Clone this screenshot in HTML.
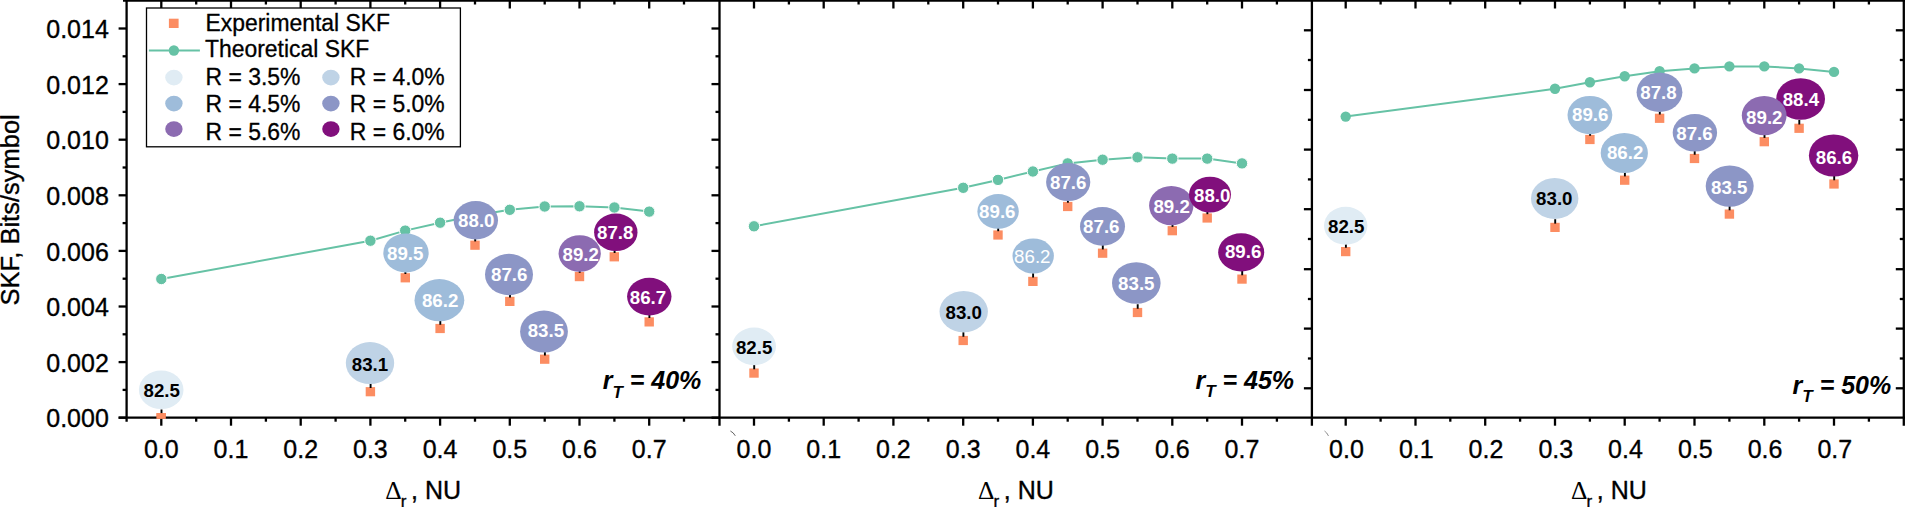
<!DOCTYPE html>
<html lang="en"><head><meta charset="utf-8"><title>SKF vs Delta r</title>
<style>
html,body{margin:0;padding:0;background:#fff;}
body{width:1925px;height:507px;overflow:hidden;}
svg{display:block;}
</style></head><body>
<svg width="1925" height="507" viewBox="0 0 1925 507" font-family="'Liberation Sans', Arial, Helvetica, sans-serif">
<rect width="1925" height="507" fill="#fff"/>
<defs>
<clipPath id="cp0"><rect x="126.6" y="0" width="592.9" height="417.7"/></clipPath>
<clipPath id="cp1"><rect x="719.5" y="0" width="592.4000000000001" height="417.7"/></clipPath>
<clipPath id="cp2"><rect x="1311.9" y="0" width="591.8999999999999" height="417.7"/></clipPath>
</defs>
<g clip-path="url(#cp0)">
<polyline points="161.3,279.0 370.4,240.7 405.2,230.6 440.1,222.7 475.0,215.6 509.8,209.8 544.7,206.5 579.5,206.3 614.4,207.5 649.2,211.6" fill="none" stroke="#66c2a5" stroke-width="2"/>
<circle cx="161.3" cy="279.0" r="5.7" fill="#66c2a5" stroke="#fff" stroke-width="1"/>
<circle cx="370.4" cy="240.7" r="5.7" fill="#66c2a5" stroke="#fff" stroke-width="1"/>
<circle cx="405.2" cy="230.6" r="5.7" fill="#66c2a5" stroke="#fff" stroke-width="1"/>
<circle cx="440.1" cy="222.7" r="5.7" fill="#66c2a5" stroke="#fff" stroke-width="1"/>
<circle cx="475.0" cy="215.6" r="5.7" fill="#66c2a5" stroke="#fff" stroke-width="1"/>
<circle cx="509.8" cy="209.8" r="5.7" fill="#66c2a5" stroke="#fff" stroke-width="1"/>
<circle cx="544.7" cy="206.5" r="5.7" fill="#66c2a5" stroke="#fff" stroke-width="1"/>
<circle cx="579.5" cy="206.3" r="5.7" fill="#66c2a5" stroke="#fff" stroke-width="1"/>
<circle cx="614.4" cy="207.5" r="5.7" fill="#66c2a5" stroke="#fff" stroke-width="1"/>
<circle cx="649.2" cy="211.6" r="5.7" fill="#66c2a5" stroke="#fff" stroke-width="1"/>
<rect x="156.6" y="413.1" width="9.4" height="9.2" fill="#fc8d62"/>
<rect x="365.7" y="387.1" width="9.4" height="9.2" fill="#fc8d62"/>
<rect x="400.6" y="273.2" width="9.4" height="9.2" fill="#fc8d62"/>
<rect x="435.4" y="323.9" width="9.4" height="9.2" fill="#fc8d62"/>
<rect x="470.3" y="240.6" width="9.4" height="9.2" fill="#fc8d62"/>
<rect x="505.1" y="296.8" width="9.4" height="9.2" fill="#fc8d62"/>
<rect x="540.0" y="354.6" width="9.4" height="9.2" fill="#fc8d62"/>
<rect x="574.8" y="272.0" width="9.4" height="9.2" fill="#fc8d62"/>
<rect x="609.6" y="252.2" width="9.4" height="9.2" fill="#fc8d62"/>
<rect x="644.5" y="317.3" width="9.4" height="9.2" fill="#fc8d62"/>
<line x1="161.5" y1="409.5" x2="161.5" y2="413.9" stroke="#000" stroke-width="1.9"/>
<line x1="370.6" y1="383.5" x2="370.6" y2="387.9" stroke="#000" stroke-width="1.9"/>
<line x1="405.4" y1="269.6" x2="405.4" y2="274.0" stroke="#000" stroke-width="1.9"/>
<line x1="440.3" y1="320.3" x2="440.3" y2="324.7" stroke="#000" stroke-width="1.9"/>
<line x1="475.2" y1="237.0" x2="475.2" y2="241.4" stroke="#000" stroke-width="1.9"/>
<line x1="510.0" y1="293.2" x2="510.0" y2="297.6" stroke="#000" stroke-width="1.9"/>
<line x1="544.9" y1="351.0" x2="544.9" y2="355.4" stroke="#000" stroke-width="1.9"/>
<line x1="579.7" y1="268.4" x2="579.7" y2="272.8" stroke="#000" stroke-width="1.9"/>
<line x1="614.6" y1="248.6" x2="614.6" y2="253.0" stroke="#000" stroke-width="1.9"/>
<line x1="649.4" y1="313.7" x2="649.4" y2="318.1" stroke="#000" stroke-width="1.9"/>
<ellipse cx="161.2" cy="389.8" rx="22.3" ry="19.3" fill="#e0ecf4"/>
<text x="161.7" y="396.7" font-size="18.7" font-weight="bold" fill="#000" text-anchor="middle">82.5</text>
<ellipse cx="370.0" cy="363.1" rx="24.2" ry="21.0" fill="#bfd3e6"/>
<text x="370.0" y="370.5" font-size="18.7" font-weight="bold" fill="#000" text-anchor="middle">83.1</text>
<ellipse cx="406.0" cy="252.9" rx="22.7" ry="19.5" fill="#9ebcda"/>
<text x="405.2" y="259.6" font-size="18.7" font-weight="bold" fill="#fff" text-anchor="middle">89.5</text>
<ellipse cx="439.4" cy="300.2" rx="24.9" ry="21.1" fill="#9ebcda"/>
<text x="440.1" y="307.0" font-size="18.7" font-weight="bold" fill="#fff" text-anchor="middle">86.2</text>
<ellipse cx="475.8" cy="220.3" rx="22.2" ry="19.2" fill="#8c96c6"/>
<text x="476.3" y="226.6" font-size="18.7" font-weight="bold" fill="#fff" text-anchor="middle">88.0</text>
<ellipse cx="509.0" cy="274.5" rx="24.0" ry="20.7" fill="#8c96c6"/>
<text x="509.2" y="280.9" font-size="18.7" font-weight="bold" fill="#fff" text-anchor="middle">87.6</text>
<ellipse cx="544.0" cy="331.6" rx="23.9" ry="21.0" fill="#8c96c6"/>
<text x="545.9" y="337.2" font-size="18.7" font-weight="bold" fill="#fff" text-anchor="middle">83.5</text>
<ellipse cx="579.7" cy="253.5" rx="21.1" ry="18.3" fill="#8c6bb1"/>
<text x="580.7" y="261.1" font-size="18.7" font-weight="bold" fill="#fff" text-anchor="middle">89.2</text>
<ellipse cx="615.8" cy="232.3" rx="21.7" ry="18.8" fill="#810f7c"/>
<text x="615.2" y="238.6" font-size="18.7" font-weight="bold" fill="#fff" text-anchor="middle">87.8</text>
<ellipse cx="649.3" cy="296.6" rx="22.2" ry="18.8" fill="#810f7c"/>
<text x="648.0" y="304.1" font-size="18.7" font-weight="bold" fill="#fff" text-anchor="middle">86.7</text>
</g>
<g clip-path="url(#cp1)">
<polyline points="754.0,226.3 963.2,187.8 998.0,179.9 1032.9,171.5 1067.7,163.4 1102.6,159.7 1137.5,157.3 1172.3,158.6 1207.2,158.6 1242.0,163.4" fill="none" stroke="#66c2a5" stroke-width="2"/>
<circle cx="754.0" cy="226.3" r="5.7" fill="#66c2a5" stroke="#fff" stroke-width="1"/>
<circle cx="963.2" cy="187.8" r="5.7" fill="#66c2a5" stroke="#fff" stroke-width="1"/>
<circle cx="998.0" cy="179.9" r="5.7" fill="#66c2a5" stroke="#fff" stroke-width="1"/>
<circle cx="1032.9" cy="171.5" r="5.7" fill="#66c2a5" stroke="#fff" stroke-width="1"/>
<circle cx="1067.7" cy="163.4" r="5.7" fill="#66c2a5" stroke="#fff" stroke-width="1"/>
<circle cx="1102.6" cy="159.7" r="5.7" fill="#66c2a5" stroke="#fff" stroke-width="1"/>
<circle cx="1137.5" cy="157.3" r="5.7" fill="#66c2a5" stroke="#fff" stroke-width="1"/>
<circle cx="1172.3" cy="158.6" r="5.7" fill="#66c2a5" stroke="#fff" stroke-width="1"/>
<circle cx="1207.2" cy="158.6" r="5.7" fill="#66c2a5" stroke="#fff" stroke-width="1"/>
<circle cx="1242.0" cy="163.4" r="5.7" fill="#66c2a5" stroke="#fff" stroke-width="1"/>
<rect x="749.3" y="368.5" width="9.4" height="9.2" fill="#fc8d62"/>
<rect x="958.5" y="335.9" width="9.4" height="9.2" fill="#fc8d62"/>
<rect x="993.3" y="230.4" width="9.4" height="9.2" fill="#fc8d62"/>
<rect x="1028.2" y="276.8" width="9.4" height="9.2" fill="#fc8d62"/>
<rect x="1063.0" y="201.9" width="9.4" height="9.2" fill="#fc8d62"/>
<rect x="1097.9" y="248.6" width="9.4" height="9.2" fill="#fc8d62"/>
<rect x="1132.8" y="307.9" width="9.4" height="9.2" fill="#fc8d62"/>
<rect x="1167.6" y="226.1" width="9.4" height="9.2" fill="#fc8d62"/>
<rect x="1202.5" y="213.4" width="9.4" height="9.2" fill="#fc8d62"/>
<rect x="1237.3" y="274.5" width="9.4" height="9.2" fill="#fc8d62"/>
<line x1="754.2" y1="364.9" x2="754.2" y2="369.3" stroke="#000" stroke-width="1.9"/>
<line x1="963.4" y1="332.3" x2="963.4" y2="336.7" stroke="#000" stroke-width="1.9"/>
<line x1="998.2" y1="226.8" x2="998.2" y2="231.2" stroke="#000" stroke-width="1.9"/>
<line x1="1033.1" y1="273.2" x2="1033.1" y2="277.6" stroke="#000" stroke-width="1.9"/>
<line x1="1067.9" y1="198.3" x2="1067.9" y2="202.7" stroke="#000" stroke-width="1.9"/>
<line x1="1102.8" y1="245.0" x2="1102.8" y2="249.4" stroke="#000" stroke-width="1.9"/>
<line x1="1137.7" y1="304.3" x2="1137.7" y2="308.7" stroke="#000" stroke-width="1.9"/>
<line x1="1172.5" y1="222.5" x2="1172.5" y2="226.9" stroke="#000" stroke-width="1.9"/>
<line x1="1207.4" y1="209.8" x2="1207.4" y2="214.2" stroke="#000" stroke-width="1.9"/>
<line x1="1242.2" y1="270.9" x2="1242.2" y2="275.3" stroke="#000" stroke-width="1.9"/>
<ellipse cx="754.1" cy="346.4" rx="21.9" ry="18.8" fill="#e0ecf4"/>
<text x="754.1" y="353.6" font-size="18.7" font-weight="bold" fill="#000" text-anchor="middle">82.5</text>
<ellipse cx="963.7" cy="311.6" rx="24.2" ry="20.7" fill="#bfd3e6"/>
<text x="963.7" y="318.5" font-size="18.7" font-weight="bold" fill="#000" text-anchor="middle">83.0</text>
<ellipse cx="998.1" cy="211.4" rx="20.7" ry="17.3" fill="#9ebcda"/>
<text x="997.3" y="217.5" font-size="18.7" font-weight="bold" fill="#fff" text-anchor="middle">89.6</text>
<ellipse cx="1033.2" cy="256.0" rx="20.7" ry="17.5" fill="#9ebcda"/>
<text x="1032.3" y="263.1" font-size="18.7" font-weight="normal" fill="#fff" text-anchor="middle">86.2</text>
<ellipse cx="1068.2" cy="182.1" rx="22.1" ry="19.0" fill="#8c96c6"/>
<text x="1068.2" y="188.6" font-size="18.7" font-weight="bold" fill="#fff" text-anchor="middle">87.6</text>
<ellipse cx="1102.5" cy="226.4" rx="22.5" ry="19.4" fill="#8c96c6"/>
<text x="1101.3" y="232.8" font-size="18.7" font-weight="bold" fill="#fff" text-anchor="middle">87.6</text>
<ellipse cx="1136.3" cy="283.0" rx="24.3" ry="20.8" fill="#8c96c6"/>
<text x="1136.3" y="289.6" font-size="18.7" font-weight="bold" fill="#fff" text-anchor="middle">83.5</text>
<ellipse cx="1171.3" cy="205.6" rx="22.2" ry="19.7" fill="#8c6bb1"/>
<text x="1171.6" y="213.3" font-size="18.7" font-weight="bold" fill="#fff" text-anchor="middle">89.2</text>
<ellipse cx="1210.0" cy="194.6" rx="21.0" ry="17.9" fill="#810f7c"/>
<text x="1212.2" y="201.5" font-size="18.7" font-weight="bold" fill="#fff" text-anchor="middle">88.0</text>
<ellipse cx="1241.2" cy="252.3" rx="23.0" ry="19.1" fill="#810f7c"/>
<text x="1243.1" y="258.1" font-size="18.7" font-weight="bold" fill="#fff" text-anchor="middle">89.6</text>
</g>
<g clip-path="url(#cp2)">
<polyline points="1345.7,116.6 1555.0,88.8 1589.9,82.3 1624.7,76.3 1659.6,71.3 1694.5,68.4 1729.4,66.4 1764.3,66.4 1799.1,68.4 1834.0,71.9" fill="none" stroke="#66c2a5" stroke-width="2"/>
<circle cx="1345.7" cy="116.6" r="5.2" fill="#66c2a5"/>
<circle cx="1555.0" cy="88.8" r="5.2" fill="#66c2a5"/>
<circle cx="1589.9" cy="82.3" r="5.2" fill="#66c2a5"/>
<circle cx="1624.7" cy="76.3" r="5.2" fill="#66c2a5"/>
<circle cx="1659.6" cy="71.3" r="5.2" fill="#66c2a5"/>
<circle cx="1694.5" cy="68.4" r="5.2" fill="#66c2a5"/>
<circle cx="1729.4" cy="66.4" r="5.2" fill="#66c2a5"/>
<circle cx="1764.3" cy="66.4" r="5.2" fill="#66c2a5"/>
<circle cx="1799.1" cy="68.4" r="5.2" fill="#66c2a5"/>
<circle cx="1834.0" cy="71.9" r="5.2" fill="#66c2a5"/>
<rect x="1341.0" y="247.0" width="9.4" height="9.2" fill="#fc8d62"/>
<rect x="1550.3" y="222.8" width="9.4" height="9.2" fill="#fc8d62"/>
<rect x="1585.2" y="134.9" width="9.4" height="9.2" fill="#fc8d62"/>
<rect x="1620.0" y="175.6" width="9.4" height="9.2" fill="#fc8d62"/>
<rect x="1654.9" y="113.7" width="9.4" height="9.2" fill="#fc8d62"/>
<rect x="1689.8" y="153.9" width="9.4" height="9.2" fill="#fc8d62"/>
<rect x="1724.7" y="209.5" width="9.4" height="9.2" fill="#fc8d62"/>
<rect x="1759.6" y="137.1" width="9.4" height="9.2" fill="#fc8d62"/>
<rect x="1794.4" y="123.7" width="9.4" height="9.2" fill="#fc8d62"/>
<rect x="1829.3" y="179.4" width="9.4" height="9.2" fill="#fc8d62"/>
<line x1="1345.9" y1="243.4" x2="1345.9" y2="247.8" stroke="#000" stroke-width="1.9"/>
<line x1="1555.2" y1="219.2" x2="1555.2" y2="223.6" stroke="#000" stroke-width="1.9"/>
<line x1="1590.1" y1="131.3" x2="1590.1" y2="135.7" stroke="#000" stroke-width="1.9"/>
<line x1="1624.9" y1="172.0" x2="1624.9" y2="176.4" stroke="#000" stroke-width="1.9"/>
<line x1="1659.8" y1="110.1" x2="1659.8" y2="114.5" stroke="#000" stroke-width="1.9"/>
<line x1="1694.7" y1="150.3" x2="1694.7" y2="154.7" stroke="#000" stroke-width="1.9"/>
<line x1="1729.6" y1="205.9" x2="1729.6" y2="210.3" stroke="#000" stroke-width="1.9"/>
<line x1="1764.5" y1="133.5" x2="1764.5" y2="137.9" stroke="#000" stroke-width="1.9"/>
<line x1="1799.3" y1="120.1" x2="1799.3" y2="124.5" stroke="#000" stroke-width="1.9"/>
<line x1="1834.2" y1="175.8" x2="1834.2" y2="180.2" stroke="#000" stroke-width="1.9"/>
<ellipse cx="1345.7" cy="225.7" rx="21.7" ry="19.0" fill="#e0ecf4"/>
<text x="1346.2" y="233.3" font-size="18.7" font-weight="bold" fill="#000" text-anchor="middle">82.5</text>
<ellipse cx="1554.7" cy="198.4" rx="23.7" ry="20.5" fill="#bfd3e6"/>
<text x="1554.3" y="205.3" font-size="18.7" font-weight="bold" fill="#000" text-anchor="middle">83.0</text>
<ellipse cx="1589.9" cy="115.1" rx="22.4" ry="19.2" fill="#9ebcda"/>
<text x="1590.2" y="121.3" font-size="18.7" font-weight="bold" fill="#fff" text-anchor="middle">89.6</text>
<ellipse cx="1624.3" cy="152.9" rx="23.6" ry="20.0" fill="#9ebcda"/>
<text x="1625.1" y="158.5" font-size="18.7" font-weight="bold" fill="#fff" text-anchor="middle">86.2</text>
<ellipse cx="1659.5" cy="92.3" rx="22.9" ry="19.7" fill="#8c96c6"/>
<text x="1658.5" y="98.6" font-size="18.7" font-weight="bold" fill="#fff" text-anchor="middle">87.8</text>
<ellipse cx="1694.9" cy="132.8" rx="22.2" ry="18.8" fill="#8c96c6"/>
<text x="1694.5" y="139.9" font-size="18.7" font-weight="bold" fill="#fff" text-anchor="middle">87.6</text>
<ellipse cx="1729.7" cy="186.1" rx="24.0" ry="20.7" fill="#8c96c6"/>
<text x="1729.2" y="193.9" font-size="18.7" font-weight="bold" fill="#fff" text-anchor="middle">83.5</text>
<ellipse cx="1800.6" cy="99.0" rx="24.4" ry="20.8" fill="#810f7c"/>
<text x="1800.9" y="106.1" font-size="18.7" font-weight="bold" fill="#fff" text-anchor="middle">88.4</text>
<ellipse cx="1764.2" cy="115.6" rx="22.4" ry="19.7" fill="#8c6bb1"/>
<text x="1764.3" y="124.4" font-size="18.7" font-weight="bold" fill="#fff" text-anchor="middle">89.2</text>
<ellipse cx="1833.6" cy="155.5" rx="24.7" ry="21.1" fill="#810f7c"/>
<text x="1834.0" y="163.8" font-size="18.7" font-weight="bold" fill="#fff" text-anchor="middle">86.6</text>
</g>
<g stroke="#000" stroke-width="2.3" fill="none">
<line x1="118.6" y1="417.7" x2="1904.95" y2="417.7"/>
<line x1="123.0" y1="0.5" x2="1904.95" y2="0.5"/>
<line x1="126.6" y1="0" x2="126.6" y2="421.7"/>
<line x1="719.5" y1="0" x2="719.5" y2="425.7"/>
<line x1="1311.9" y1="0" x2="1311.9" y2="425.7"/>
<line x1="1903.8" y1="0" x2="1903.8" y2="425.7"/>
<line x1="161.3" y1="417.7" x2="161.3" y2="425.7"/>
<line x1="161.3" y1="0.5" x2="161.3" y2="8.5"/>
<line x1="196.2" y1="417.7" x2="196.2" y2="421.7"/>
<line x1="196.2" y1="0.5" x2="196.2" y2="4.5"/>
<line x1="231.0" y1="417.7" x2="231.0" y2="425.7"/>
<line x1="231.0" y1="0.5" x2="231.0" y2="8.5"/>
<line x1="265.9" y1="417.7" x2="265.9" y2="421.7"/>
<line x1="265.9" y1="0.5" x2="265.9" y2="4.5"/>
<line x1="300.7" y1="417.7" x2="300.7" y2="425.7"/>
<line x1="300.7" y1="0.5" x2="300.7" y2="8.5"/>
<line x1="335.6" y1="417.7" x2="335.6" y2="421.7"/>
<line x1="335.6" y1="0.5" x2="335.6" y2="4.5"/>
<line x1="370.4" y1="417.7" x2="370.4" y2="425.7"/>
<line x1="370.4" y1="0.5" x2="370.4" y2="8.5"/>
<line x1="405.2" y1="417.7" x2="405.2" y2="421.7"/>
<line x1="405.2" y1="0.5" x2="405.2" y2="4.5"/>
<line x1="440.1" y1="417.7" x2="440.1" y2="425.7"/>
<line x1="440.1" y1="0.5" x2="440.1" y2="8.5"/>
<line x1="475.0" y1="417.7" x2="475.0" y2="421.7"/>
<line x1="475.0" y1="0.5" x2="475.0" y2="4.5"/>
<line x1="509.8" y1="417.7" x2="509.8" y2="425.7"/>
<line x1="509.8" y1="0.5" x2="509.8" y2="8.5"/>
<line x1="544.7" y1="417.7" x2="544.7" y2="421.7"/>
<line x1="544.7" y1="0.5" x2="544.7" y2="4.5"/>
<line x1="579.5" y1="417.7" x2="579.5" y2="425.7"/>
<line x1="579.5" y1="0.5" x2="579.5" y2="8.5"/>
<line x1="614.4" y1="417.7" x2="614.4" y2="421.7"/>
<line x1="614.4" y1="0.5" x2="614.4" y2="4.5"/>
<line x1="649.2" y1="417.7" x2="649.2" y2="425.7"/>
<line x1="649.2" y1="0.5" x2="649.2" y2="8.5"/>
<line x1="684.0" y1="417.7" x2="684.0" y2="421.7"/>
<line x1="684.0" y1="0.5" x2="684.0" y2="4.5"/>
<line x1="754.0" y1="417.7" x2="754.0" y2="425.7"/>
<line x1="754.0" y1="0.5" x2="754.0" y2="8.5"/>
<line x1="788.9" y1="417.7" x2="788.9" y2="421.7"/>
<line x1="788.9" y1="0.5" x2="788.9" y2="4.5"/>
<line x1="823.7" y1="417.7" x2="823.7" y2="425.7"/>
<line x1="823.7" y1="0.5" x2="823.7" y2="8.5"/>
<line x1="858.6" y1="417.7" x2="858.6" y2="421.7"/>
<line x1="858.6" y1="0.5" x2="858.6" y2="4.5"/>
<line x1="893.4" y1="417.7" x2="893.4" y2="425.7"/>
<line x1="893.4" y1="0.5" x2="893.4" y2="8.5"/>
<line x1="928.3" y1="417.7" x2="928.3" y2="421.7"/>
<line x1="928.3" y1="0.5" x2="928.3" y2="4.5"/>
<line x1="963.2" y1="417.7" x2="963.2" y2="425.7"/>
<line x1="963.2" y1="0.5" x2="963.2" y2="8.5"/>
<line x1="998.0" y1="417.7" x2="998.0" y2="421.7"/>
<line x1="998.0" y1="0.5" x2="998.0" y2="4.5"/>
<line x1="1032.9" y1="417.7" x2="1032.9" y2="425.7"/>
<line x1="1032.9" y1="0.5" x2="1032.9" y2="8.5"/>
<line x1="1067.7" y1="417.7" x2="1067.7" y2="421.7"/>
<line x1="1067.7" y1="0.5" x2="1067.7" y2="4.5"/>
<line x1="1102.6" y1="417.7" x2="1102.6" y2="425.7"/>
<line x1="1102.6" y1="0.5" x2="1102.6" y2="8.5"/>
<line x1="1137.5" y1="417.7" x2="1137.5" y2="421.7"/>
<line x1="1137.5" y1="0.5" x2="1137.5" y2="4.5"/>
<line x1="1172.3" y1="417.7" x2="1172.3" y2="425.7"/>
<line x1="1172.3" y1="0.5" x2="1172.3" y2="8.5"/>
<line x1="1207.2" y1="417.7" x2="1207.2" y2="421.7"/>
<line x1="1207.2" y1="0.5" x2="1207.2" y2="4.5"/>
<line x1="1242.0" y1="417.7" x2="1242.0" y2="425.7"/>
<line x1="1242.0" y1="0.5" x2="1242.0" y2="8.5"/>
<line x1="1276.9" y1="417.7" x2="1276.9" y2="421.7"/>
<line x1="1276.9" y1="0.5" x2="1276.9" y2="4.5"/>
<line x1="1345.7" y1="417.7" x2="1345.7" y2="425.7"/>
<line x1="1345.7" y1="0.5" x2="1345.7" y2="8.5"/>
<line x1="1380.6" y1="417.7" x2="1380.6" y2="421.7"/>
<line x1="1380.6" y1="0.5" x2="1380.6" y2="4.5"/>
<line x1="1415.5" y1="417.7" x2="1415.5" y2="425.7"/>
<line x1="1415.5" y1="0.5" x2="1415.5" y2="8.5"/>
<line x1="1450.3" y1="417.7" x2="1450.3" y2="421.7"/>
<line x1="1450.3" y1="0.5" x2="1450.3" y2="4.5"/>
<line x1="1485.2" y1="417.7" x2="1485.2" y2="425.7"/>
<line x1="1485.2" y1="0.5" x2="1485.2" y2="8.5"/>
<line x1="1520.1" y1="417.7" x2="1520.1" y2="421.7"/>
<line x1="1520.1" y1="0.5" x2="1520.1" y2="4.5"/>
<line x1="1555.0" y1="417.7" x2="1555.0" y2="425.7"/>
<line x1="1555.0" y1="0.5" x2="1555.0" y2="8.5"/>
<line x1="1589.9" y1="417.7" x2="1589.9" y2="421.7"/>
<line x1="1589.9" y1="0.5" x2="1589.9" y2="4.5"/>
<line x1="1624.7" y1="417.7" x2="1624.7" y2="425.7"/>
<line x1="1624.7" y1="0.5" x2="1624.7" y2="8.5"/>
<line x1="1659.6" y1="417.7" x2="1659.6" y2="421.7"/>
<line x1="1659.6" y1="0.5" x2="1659.6" y2="4.5"/>
<line x1="1694.5" y1="417.7" x2="1694.5" y2="425.7"/>
<line x1="1694.5" y1="0.5" x2="1694.5" y2="8.5"/>
<line x1="1729.4" y1="417.7" x2="1729.4" y2="421.7"/>
<line x1="1729.4" y1="0.5" x2="1729.4" y2="4.5"/>
<line x1="1764.3" y1="417.7" x2="1764.3" y2="425.7"/>
<line x1="1764.3" y1="0.5" x2="1764.3" y2="8.5"/>
<line x1="1799.1" y1="417.7" x2="1799.1" y2="421.7"/>
<line x1="1799.1" y1="0.5" x2="1799.1" y2="4.5"/>
<line x1="1834.0" y1="417.7" x2="1834.0" y2="425.7"/>
<line x1="1834.0" y1="0.5" x2="1834.0" y2="8.5"/>
<line x1="1868.9" y1="417.7" x2="1868.9" y2="421.7"/>
<line x1="1868.9" y1="0.5" x2="1868.9" y2="4.5"/>
<line x1="118.6" y1="417.7" x2="126.6" y2="417.7"/>
<line x1="122.6" y1="389.9" x2="126.6" y2="389.9"/>
<line x1="118.6" y1="362.1" x2="126.6" y2="362.1"/>
<line x1="122.6" y1="334.3" x2="126.6" y2="334.3"/>
<line x1="118.6" y1="306.5" x2="126.6" y2="306.5"/>
<line x1="122.6" y1="278.7" x2="126.6" y2="278.7"/>
<line x1="118.6" y1="250.9" x2="126.6" y2="250.9"/>
<line x1="122.6" y1="223.1" x2="126.6" y2="223.1"/>
<line x1="118.6" y1="195.3" x2="126.6" y2="195.3"/>
<line x1="122.6" y1="167.5" x2="126.6" y2="167.5"/>
<line x1="118.6" y1="139.7" x2="126.6" y2="139.7"/>
<line x1="122.6" y1="111.9" x2="126.6" y2="111.9"/>
<line x1="118.6" y1="84.1" x2="126.6" y2="84.1"/>
<line x1="122.6" y1="56.3" x2="126.6" y2="56.3"/>
<line x1="118.6" y1="28.5" x2="126.6" y2="28.5"/>
<line x1="711.5" y1="417.7" x2="719.5" y2="417.7"/>
<line x1="715.5" y1="389.9" x2="719.5" y2="389.9"/>
<line x1="711.5" y1="362.1" x2="719.5" y2="362.1"/>
<line x1="715.5" y1="334.3" x2="719.5" y2="334.3"/>
<line x1="711.5" y1="306.5" x2="719.5" y2="306.5"/>
<line x1="715.5" y1="278.7" x2="719.5" y2="278.7"/>
<line x1="711.5" y1="250.9" x2="719.5" y2="250.9"/>
<line x1="715.5" y1="223.1" x2="719.5" y2="223.1"/>
<line x1="711.5" y1="195.3" x2="719.5" y2="195.3"/>
<line x1="715.5" y1="167.5" x2="719.5" y2="167.5"/>
<line x1="711.5" y1="139.7" x2="719.5" y2="139.7"/>
<line x1="715.5" y1="111.9" x2="719.5" y2="111.9"/>
<line x1="711.5" y1="84.1" x2="719.5" y2="84.1"/>
<line x1="715.5" y1="56.3" x2="719.5" y2="56.3"/>
<line x1="711.5" y1="28.5" x2="719.5" y2="28.5"/>
<line x1="1303.9" y1="30.3" x2="1311.9" y2="30.3"/>
<line x1="1307.9" y1="60.0" x2="1311.9" y2="60.0"/>
<line x1="1303.9" y1="90.0" x2="1311.9" y2="90.0"/>
<line x1="1307.9" y1="119.8" x2="1311.9" y2="119.8"/>
<line x1="1303.9" y1="149.6" x2="1311.9" y2="149.6"/>
<line x1="1307.9" y1="179.4" x2="1311.9" y2="179.4"/>
<line x1="1303.9" y1="209.2" x2="1311.9" y2="209.2"/>
<line x1="1307.9" y1="239.0" x2="1311.9" y2="239.0"/>
<line x1="1303.9" y1="269.2" x2="1311.9" y2="269.2"/>
<line x1="1307.9" y1="299.0" x2="1311.9" y2="299.0"/>
<line x1="1303.9" y1="328.6" x2="1311.9" y2="328.6"/>
<line x1="1307.9" y1="358.5" x2="1311.9" y2="358.5"/>
<line x1="1303.9" y1="388.3" x2="1311.9" y2="388.3"/>
<line x1="1895.8" y1="30.3" x2="1903.8" y2="30.3"/>
<line x1="1899.8" y1="60.0" x2="1903.8" y2="60.0"/>
<line x1="1895.8" y1="90.0" x2="1903.8" y2="90.0"/>
<line x1="1899.8" y1="119.8" x2="1903.8" y2="119.8"/>
<line x1="1895.8" y1="149.6" x2="1903.8" y2="149.6"/>
<line x1="1899.8" y1="179.4" x2="1903.8" y2="179.4"/>
<line x1="1895.8" y1="209.2" x2="1903.8" y2="209.2"/>
<line x1="1899.8" y1="239.0" x2="1903.8" y2="239.0"/>
<line x1="1895.8" y1="269.2" x2="1903.8" y2="269.2"/>
<line x1="1899.8" y1="299.0" x2="1903.8" y2="299.0"/>
<line x1="1895.8" y1="328.6" x2="1903.8" y2="328.6"/>
<line x1="1899.8" y1="358.5" x2="1903.8" y2="358.5"/>
<line x1="1895.8" y1="388.3" x2="1903.8" y2="388.3"/>
</g>
<rect x="156.4" y="413.1" width="9.4" height="5.8" fill="#fc8d62"/>
<path d="M730.4 431 Q733.5 432.5 735.3 435.8" stroke="#222" stroke-width="0.7" fill="none"/>
<path d="M1324.5 431 Q1327 432.5 1328.5 436" stroke="#444" stroke-width="0.6" fill="none"/>
<g fill="#000" stroke="#000" stroke-width="0.35" stroke-linejoin="round">
<text x="108.8" y="427.3" font-size="25" text-anchor="end">0.000</text>
<text x="108.8" y="371.7" font-size="25" text-anchor="end">0.002</text>
<text x="108.8" y="316.1" font-size="25" text-anchor="end">0.004</text>
<text x="108.8" y="260.5" font-size="25" text-anchor="end">0.006</text>
<text x="108.8" y="204.9" font-size="25" text-anchor="end">0.008</text>
<text x="108.8" y="149.3" font-size="25" text-anchor="end">0.010</text>
<text x="108.8" y="93.7" font-size="25" text-anchor="end">0.012</text>
<text x="108.8" y="38.1" font-size="25" text-anchor="end">0.014</text>
<text x="161.3" y="458" font-size="25" text-anchor="middle">0.0</text>
<text x="231.0" y="458" font-size="25" text-anchor="middle">0.1</text>
<text x="300.7" y="458" font-size="25" text-anchor="middle">0.2</text>
<text x="370.4" y="458" font-size="25" text-anchor="middle">0.3</text>
<text x="440.1" y="458" font-size="25" text-anchor="middle">0.4</text>
<text x="509.8" y="458" font-size="25" text-anchor="middle">0.5</text>
<text x="579.5" y="458" font-size="25" text-anchor="middle">0.6</text>
<text x="649.2" y="458" font-size="25" text-anchor="middle">0.7</text>
<text transform="translate(385.3,498.6) scale(1.03,1)" font-size="24.8" stroke="none" font-family="'Liberation Serif', 'DejaVu Serif', serif">Δ</text>
<text x="400.8" y="506.8" font-size="17">r</text>
<text x="411.1" y="498.8" font-size="25">, NU</text>
<text x="754.0" y="458" font-size="25" text-anchor="middle">0.0</text>
<text x="823.7" y="458" font-size="25" text-anchor="middle">0.1</text>
<text x="893.4" y="458" font-size="25" text-anchor="middle">0.2</text>
<text x="963.2" y="458" font-size="25" text-anchor="middle">0.3</text>
<text x="1032.9" y="458" font-size="25" text-anchor="middle">0.4</text>
<text x="1102.6" y="458" font-size="25" text-anchor="middle">0.5</text>
<text x="1172.3" y="458" font-size="25" text-anchor="middle">0.6</text>
<text x="1242.0" y="458" font-size="25" text-anchor="middle">0.7</text>
<text transform="translate(978.0,498.6) scale(1.03,1)" font-size="24.8" stroke="none" font-family="'Liberation Serif', 'DejaVu Serif', serif">Δ</text>
<text x="993.5" y="506.8" font-size="17">r</text>
<text x="1003.8" y="498.8" font-size="25">, NU</text>
<text x="1346.5" y="458" font-size="25" text-anchor="middle">0.0</text>
<text x="1416.3" y="458" font-size="25" text-anchor="middle">0.1</text>
<text x="1486.0" y="458" font-size="25" text-anchor="middle">0.2</text>
<text x="1555.8" y="458" font-size="25" text-anchor="middle">0.3</text>
<text x="1625.5" y="458" font-size="25" text-anchor="middle">0.4</text>
<text x="1695.3" y="458" font-size="25" text-anchor="middle">0.5</text>
<text x="1765.1" y="458" font-size="25" text-anchor="middle">0.6</text>
<text x="1834.8" y="458" font-size="25" text-anchor="middle">0.7</text>
<text transform="translate(1571.0,498.6) scale(1.03,1)" font-size="24.8" stroke="none" font-family="'Liberation Serif', 'DejaVu Serif', serif">Δ</text>
<text x="1586.5" y="506.8" font-size="17">r</text>
<text x="1596.8" y="498.8" font-size="25">, NU</text>
<text transform="translate(19.1,209.9) rotate(-90)" font-size="25.5" text-anchor="middle">SKF, Bits/symbol</text>
</g>
<text x="602.7" y="388.9" font-size="25" font-weight="bold" font-style="italic">r<tspan font-size="17" dy="8.9">T</tspan><tspan dy="-8.9"> = 40%</tspan></text>
<text x="1195.4" y="388.9" font-size="25" font-weight="bold" font-style="italic">r<tspan font-size="17" dy="7.9">T</tspan><tspan dy="-7.9"> = 45%</tspan></text>
<text x="1792.6" y="393.9" font-size="25" font-weight="bold" font-style="italic">r<tspan font-size="17" dy="7.7">T</tspan><tspan dy="-7.7"> = 50%</tspan></text>
<rect x="146.5" y="8" width="313.9" height="138.8" fill="#fff" stroke="#000" stroke-width="1.3"/>
<rect x="168.9" y="18.7" width="9.7" height="9.3" fill="#fc8d62"/>
<line x1="148.9" y1="50.6" x2="199.9" y2="50.6" stroke="#66c2a5" stroke-width="2"/>
<circle cx="173.9" cy="50.5" r="5.2" fill="#66c2a5"/>
<g fill="#000" stroke="#000" stroke-width="0.3" stroke-linejoin="round">
<text transform="translate(205.5,30.5) scale(1,1.04)" font-size="22.9">Experimental SKF</text>
<text transform="translate(205.0,57.1) scale(1,1.04)" font-size="22.9">Theoretical SKF</text>
<ellipse cx="173.9" cy="77.6" rx="8.7" ry="7.8" fill="#e0ecf4" stroke="none"/>
<text transform="translate(205.6,84.6) scale(1,1.04)" font-size="22.9">R = 3.5%</text>
<ellipse cx="330.9" cy="77.6" rx="8.7" ry="7.8" fill="#bfd3e6" stroke="none"/>
<text transform="translate(349.8,84.6) scale(1,1.04)" font-size="22.9">R = 4.0%</text>
<ellipse cx="173.9" cy="103.6" rx="8.7" ry="7.8" fill="#9ebcda" stroke="none"/>
<text transform="translate(205.6,112.3) scale(1,1.04)" font-size="22.9">R = 4.5%</text>
<ellipse cx="330.9" cy="103.6" rx="8.7" ry="7.8" fill="#8c96c6" stroke="none"/>
<text transform="translate(349.8,112.3) scale(1,1.04)" font-size="22.9">R = 5.0%</text>
<ellipse cx="173.9" cy="129.1" rx="8.7" ry="7.8" fill="#8c6bb1" stroke="none"/>
<text transform="translate(205.6,140.1) scale(1,1.04)" font-size="22.9">R = 5.6%</text>
<ellipse cx="330.9" cy="129.1" rx="8.7" ry="7.8" fill="#810f7c" stroke="none"/>
<text transform="translate(349.8,140.1) scale(1,1.04)" font-size="22.9">R = 6.0%</text>
</g>
</svg>
</body></html>
